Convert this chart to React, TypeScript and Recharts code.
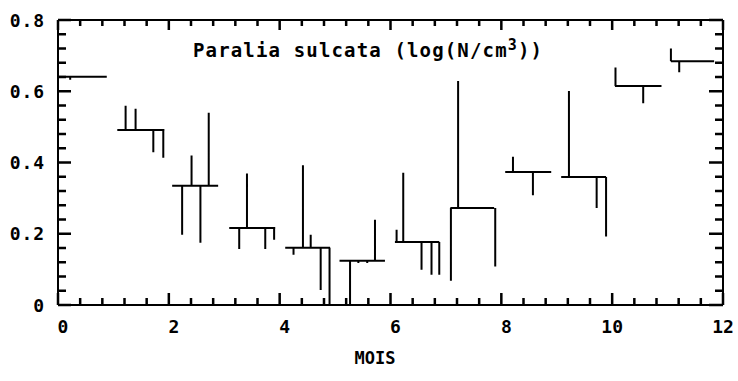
import React from 'react';
import { ComposedChart, Line, XAxis, YAxis } from 'recharts';

// monthly means (horizontal bars) and the individual samples hanging off them
const groupMeans = [0.641, 0.491, 0.335, 0.216, 0.161, 0.124, 0.177, 0.272, 0.373, 0.359, 0.615, 0.684];
const groupStart = [0.0, 1.07, 2.06, 3.09, 4.1, 5.08, 6.08, 7.08, 8.07, 9.08, 10.05, 11.06];
const groupEnd = [0.88, 1.92, 2.89, 3.92, 4.91, 5.9, 6.88, 7.87, 8.9, 9.89, 10.89, 11.84];

const sampleDays = [
  [0.22],
  [1.22, 1.4, 1.72, 1.9],
  [2.24, 2.41, 2.57, 2.72],
  [3.27, 3.41, 3.74, 3.9],
  [4.25, 4.42, 4.56, 4.74, 4.9],
  [5.27, 5.42, 5.58, 5.72],
  [6.11, 6.23, 6.56, 6.74, 6.88],
  [7.09, 7.22, 7.89],
  [8.21, 8.57],
  [9.22, 9.72, 9.89],
  [10.06, 10.56],
  [11.06, 11.21],
];
const sampleValues = [
  [0.632],
  [0.559, 0.551, 0.429, 0.413],
  [0.197, 0.42, 0.175, 0.54],
  [0.157, 0.369, 0.157, 0.183],
  [0.141, 0.392, 0.197, 0.042, 0.0],
  [0.0, 0.118, 0.118, 0.239],
  [0.211, 0.371, 0.099, 0.085, 0.085],
  [0.068, 0.629, 0.108],
  [0.416, 0.308],
  [0.601, 0.272, 0.192],
  [0.667, 0.566],
  [0.72, 0.653],
];

const xMajorTicks = [0, 2, 4, 6, 8, 10, 12];
const xTicks = [
  0, 0.4, 0.8, 1.2, 1.6, 2, 2.4, 2.8, 3.2, 3.6, 4, 4.4, 4.8, 5.2, 5.6, 6,
  6.4, 6.8, 7.2, 7.6, 8, 8.4, 8.8, 9.2, 9.6, 10, 10.4, 10.8, 11.2, 11.6, 12,
];
const yMajorTicks = [0, 0.2, 0.4, 0.6, 0.8];
const yTicks = [
  0, 0.04, 0.08, 0.12, 0.16, 0.2, 0.24, 0.28, 0.32, 0.36, 0.4,
  0.44, 0.48, 0.52, 0.56, 0.6, 0.64, 0.68, 0.72, 0.76, 0.8,
];

const FONT = "'DejaVu Sans Mono', monospace";

// plot box that the axis sizes below produce
const LEFT = 58;
const RIGHT = 723;
const TOP = 20;
const BOTTOM = 305;
const sx = (v: number) => LEFT + (v / 12) * (RIGHT - LEFT);
const sy = (v: number) => BOTTOM - (v / 0.8) * (BOTTOM - TOP);

type Pt = { x: number; y: number | null };

// one path, gaps (null) between the separate strokes
const rows: Pt[] = [];
groupMeans.forEach((mean, i) => {
  rows.push({ x: groupStart[i], y: mean }, { x: groupEnd[i], y: mean }, { x: groupEnd[i], y: null });
  sampleDays[i].forEach((d, j) => {
    rows.push({ x: d, y: mean }, { x: d, y: sampleValues[i][j] }, { x: d, y: null });
  });
});

// inward tick marks on the four sides of the frame, as one path
const tickPath = [
  ...xTicks.map((v) => {
    const major = xMajorTicks.includes(v);
    return `M${sx(v)},${BOTTOM}V${BOTTOM - (major ? 12 : 7)}M${sx(v)},${TOP}V${TOP + (major ? 10 : 6)}`;
  }),
  ...yTicks.map((v) => {
    const major = yMajorTicks.includes(v);
    return `M${LEFT},${sy(v)}H${LEFT + (major ? 13 : 8)}M${RIGHT},${sy(v)}H${RIGHT - (major ? 14 : 8)}`;
  }),
].join('');

const BottomLabel = (props: any) => {
  const { x, y, payload } = props;
  const v = payload.value;
  return (
    <text x={x + (v < 10 ? 5 : 0)} y={y + 28} textAnchor="middle" fontFamily={FONT}
      fontWeight="bold" fontSize={18} fill="#000">{v}</text>
  );
};

const LeftLabel = (props: any) => {
  const { x, y, payload } = props;
  const v = payload.value;
  return (
    <text x={x - 13} y={y + 6.5} textAnchor="end" fontFamily={FONT} fontWeight="bold"
      fontSize={18} letterSpacing={0.9} fill="#000">{v === 0 ? '0' : v.toFixed(1)}</text>
  );
};

export default function App() {
  return (
    <div style={{ position: 'absolute', left: 0, top: 0, width: 738, height: 381, background: '#fff' }}>
      <ComposedChart width={738} height={381} data={rows} margin={{ top: 0, right: 0, bottom: 0, left: 0 }}>
        <XAxis dataKey="x" type="number" domain={[0, 12]} ticks={xMajorTicks} interval={0} height={76}
          tick={BottomLabel} tickSize={0} tickMargin={0} tickLine={false}
          axisLine={{ stroke: '#000', strokeWidth: 2 }} />
        <XAxis xAxisId="top" orientation="top" dataKey="x" type="number" domain={[0, 12]}
          height={20} tick={false} tickLine={false} axisLine={{ stroke: '#000', strokeWidth: 2 }} />
        <YAxis type="number" domain={[0, 0.8]} ticks={yMajorTicks} interval={0} width={58}
          tick={LeftLabel} tickSize={0} tickMargin={0} tickLine={false}
          axisLine={{ stroke: '#000', strokeWidth: 2 }} />
        <YAxis yAxisId="right" orientation="right" type="number" domain={[0, 0.8]}
          width={15} tick={false} tickLine={false} axisLine={{ stroke: '#000', strokeWidth: 2 }} />
        <Line dataKey="y" type="linear" stroke="#000" strokeWidth={2} dot={false}
          connectNulls={false} isAnimationActive={false} />
      </ComposedChart>
      <svg width={738} height={381} style={{ position: 'absolute', left: 0, top: 0, pointerEvents: 'none' }}>
        <path d={tickPath} stroke="#000" strokeWidth={2.5} fill="none" />
        <text x={193} y={57} fontFamily={FONT} fontWeight="bold" fontSize={19} letterSpacing={1.15} fill="#000">
          Paralia sulcata (log(N/cm<tspan dy={-7} fontSize={15}>3</tspan><tspan dy={7}>))</tspan>
        </text>
        <text x={375} y={364} textAnchor="middle" fontFamily={FONT} fontWeight="bold" fontSize={17} fill="#000">
          MOIS
        </text>
      </svg>
    </div>
  );
}
